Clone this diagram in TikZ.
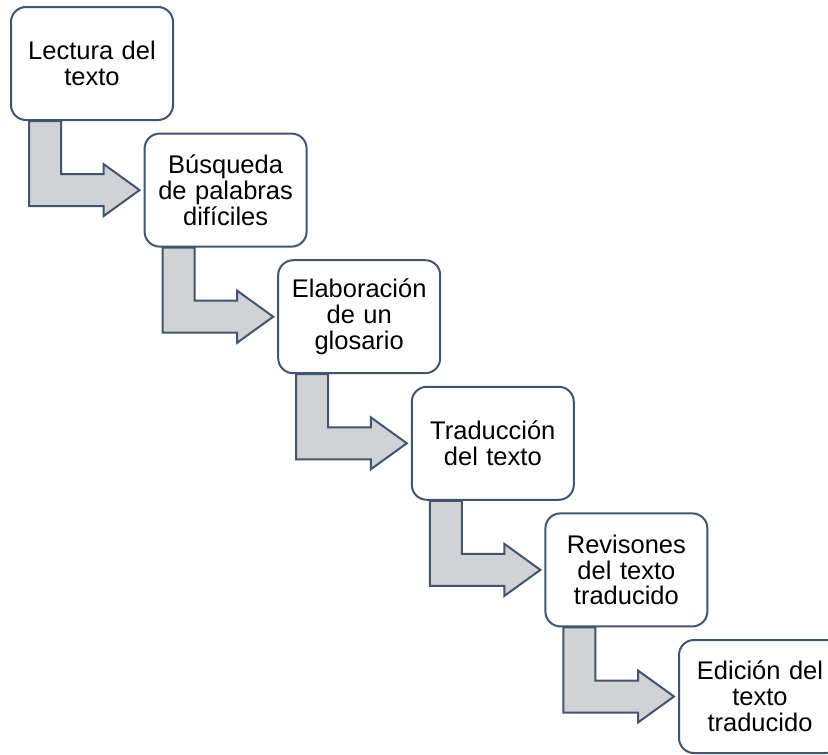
\documentclass[tikz,border=0pt]{standalone}
\usepackage{fontspec}
\setmainfont{Liberation Sans}
\usetikzlibrary{calc,backgrounds}
\definecolor{edge}{HTML}{44546A}
\definecolor{arrowfill}{HTML}{D0D2D6}
\tikzset{
  stepbox/.style={draw=edge, line width=2pt, fill=white, rounded corners=15pt,
    minimum width=162pt, minimum height=113pt, text width=150pt, align=center,
    inner sep=0pt, font=\fontsize{25.5}{25.8}\selectfont, text=black},
  blockarrow/.style={draw=edge, line width=2pt, fill=arrowfill, line join=miter}
}
\begin{document}
\begin{tikzpicture}[x=1pt,y=-1pt]
\clip (0,0) rectangle (828,755);
\node[stepbox] (b1) at (92,63.5) {Lectura del\\texto};
\node[stepbox] (b2) at (225.6,190.1) {Búsqueda\\de palabras\\difíciles};
\node[stepbox] (b3) at (359.2,316.7) {Elaboración\\de un\\glosario};
\node[stepbox] (b4) at (492.8,443.3) {Traducción\\del texto};
\node[stepbox] (b5) at (626.4,569.9) {Revisones\\del texto\\traducido};
\node[stepbox] (b6) at (760,696.5) {Edición del\\texto\\traducido};
\begin{pgfonlayer}{background}
\foreach \a/\b in {b1/b2,b2/b3,b3/b4,b4/b5,b5/b6}{
  \draw[blockarrow] ($(\a.south west)+(19,0)$) |- ($(\b.west)+(-40,16)$)
    -- ++(0,10) -- ($(\b.west)+(-4,0)$) -- ($(\b.west)+(-40,-26)$)
    -- ++(0,10) -| ($(\a.south west)+(51,0)$) -- cycle;
}
\end{pgfonlayer}
\end{tikzpicture}
\end{document}
